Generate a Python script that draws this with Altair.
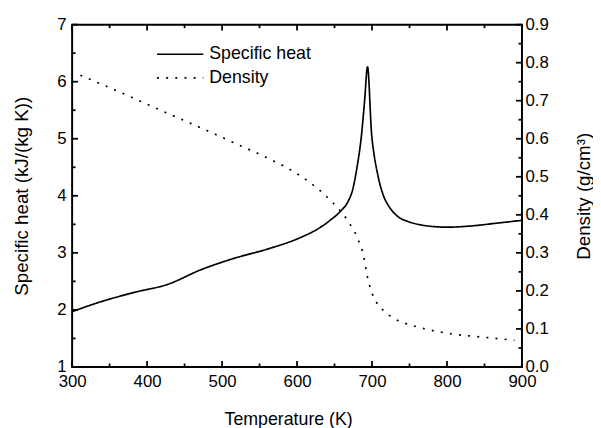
import altair as alt
import pandas as pd

# ---- data ----
cp_T = [300, 340, 384, 428, 471, 515, 559, 603, 629, 645, 658, 668, 674, 680,
        686, 690, 694, 699.5, 703, 707, 711, 715, 720, 726, 735, 748, 765, 783,
        800, 831, 866, 900]
cp_val = [1.97, 2.15, 2.31, 2.45, 2.70, 2.90, 3.06, 3.26, 3.43, 3.58, 3.73, 3.90,
          4.10, 4.50, 5.07, 5.65, 6.26, 5.07, 4.70, 4.41, 4.18, 4.01, 3.87, 3.75,
          3.63, 3.55, 3.49, 3.46, 3.45, 3.47, 3.52, 3.57]

den_T = [311, 336, 362, 386, 410, 447, 485, 522, 559, 607, 645, 667, 681, 689,
         693.4, 700, 706, 716, 728, 741, 765, 802, 839, 876, 890]
den_val = [0.767, 0.746, 0.724, 0.703, 0.682, 0.650, 0.617, 0.584, 0.551, 0.499,
           0.437, 0.386, 0.337, 0.290, 0.241, 0.194, 0.170, 0.147, 0.129, 0.117,
           0.103, 0.088, 0.080, 0.073, 0.070]

series_names = ["Specific heat", "Density"]

x_tick_vals = list(range(300, 901, 50))
x_label_vals = list(range(300, 901, 100))
cp_tick_vals = [1 + 0.5 * i for i in range(13)]
cp_label_vals = [1, 2, 3, 4, 5, 6, 7]
den_tick_vals = [round(0.05 * i, 2) for i in range(19)]
den_label_vals = [round(0.1 * i, 1) for i in range(10)]

W, H = 456, 347
FONT = "Liberation Sans"

cp_df = pd.DataFrame({"T": cp_T, "v": cp_val, "series": series_names[0]})
den_df = pd.DataFrame({"T": den_T, "v": den_val, "series": series_names[1]})

xscale = alt.Scale(domain=[300, 900], nice=False, zero=False)
cpscale = alt.Scale(domain=[1, 7], nice=False, zero=False)
denscale = alt.Scale(domain=[0, 0.9], nice=False, zero=False)

x_axis = alt.Axis(
    title="Temperature (K)", values=x_label_vals, format="d",
    ticks=False, domain=False, grid=False, labelPadding=7, labelFlush=False,
    titleX=219, titleY=53, titleBaseline="middle", titleFontSize=18)


def xenc():
    return alt.X("T:Q", scale=xscale, axis=x_axis)


dash = alt.StrokeDash(
    "series:N",
    scale=alt.Scale(domain=series_names, range=[[1, 0], [2, 7.3]]),
    legend=alt.Legend(
        title=None, orient="none", legendX=85, legendY=21,
        symbolType="stroke", symbolSize=2209, symbolStrokeWidth=1.7,
        symbolStrokeColor="black", labelFontSize=18, labelFont=FONT,
        labelColor="black", labelOffset=5, rowPadding=6, padding=0,
        clipHeight=18,
    ),
)

cp_line = alt.Chart(cp_df).mark_line(
    color="black", strokeWidth=1.7, interpolate="monotone"
).encode(
    x=xenc(),
    y=alt.Y("v:Q", scale=cpscale, axis=alt.Axis(
        orient="left", title="Specific heat (kJ/(kg K))", values=cp_label_vals,
        format="d", ticks=False, domain=False, grid=False, labelPadding=6,
        labelFlush=False,
        titleX=-51, titleY=H / 2, titleBaseline="middle", titleAngle=270,
        titleFontSize=19)),
    strokeDash=dash,
)

den_line = alt.Chart(den_df).mark_line(
    color="black", strokeWidth=1.7, interpolate="monotone", strokeCap="butt"
).encode(
    x=xenc(),
    y=alt.Y("v:Q", scale=denscale, axis=alt.Axis(
        orient="right", title="Density (g/cm³)", values=den_label_vals,
        format=".1f", ticks=False, domain=False, grid=False, labelPadding=3,
        labelFlush=False,
        titleX=62, titleY=H / 2, titleBaseline="middle", titleAngle=270,
        titleFontSize=19)),
    strokeDash=dash,
)

xt_df = pd.DataFrame({"T": x_tick_vals})
cpt_df = pd.DataFrame({"v": cp_tick_vals})
dent_df = pd.DataFrame({"v": den_tick_vals})

MAJ, MIN = 6, 3.5
TW = 1.8
TC = "black"

x_major = "datum.T % 100 == 0"
cp_major = "datum.v % 1 == 0"
den_major = "abs(datum.v * 10 - round(datum.v * 10)) < 0.001"


def not_(e):
    return "!(" + e + ")"


tick_layers = []
for test, L in [(x_major, MAJ), (not_(x_major), MIN)]:
    tick_layers.append(
        alt.Chart(xt_df).transform_filter(test).mark_rule(color=TC, strokeWidth=TW)
        .encode(x=xenc(), y=alt.value(H), y2=alt.value(H - L)))
    tick_layers.append(
        alt.Chart(xt_df).transform_filter(test).mark_rule(color=TC, strokeWidth=TW)
        .encode(x=xenc(), y=alt.value(0), y2=alt.value(L)))
for test, L in [(cp_major, MAJ), (not_(cp_major), MIN)]:
    tick_layers.append(
        alt.Chart(cpt_df).transform_filter(test).mark_rule(color=TC, strokeWidth=TW)
        .encode(y=alt.Y("v:Q", scale=cpscale, axis=None),
                x=alt.value(0), x2=alt.value(L)))
for test, L in [(den_major, MAJ), (not_(den_major), MIN)]:
    tick_layers.append(
        alt.Chart(dent_df).transform_filter(test).mark_rule(color=TC, strokeWidth=TW)
        .encode(y=alt.Y("v:Q", scale=denscale, axis=None),
                x=alt.value(W), x2=alt.value(W - L)))

chart = alt.layer(
    cp_line, den_line, *tick_layers
).resolve_scale(
    y="independent"
).properties(
    width=W, height=H,
    autosize=alt.AutoSizeParams(type="none"),
    padding={"left": 65, "top": 14, "right": 72, "bottom": 59},
).configure_view(
    stroke="black", strokeWidth=2
).configure_axis(
    labelFont=FONT, labelFontSize=17, labelColor="black",
    titleFont=FONT, titleFontWeight="normal", titleColor="black",
)

chart.save("out.html", embed_options={"renderer": "svg", "actions": False})
